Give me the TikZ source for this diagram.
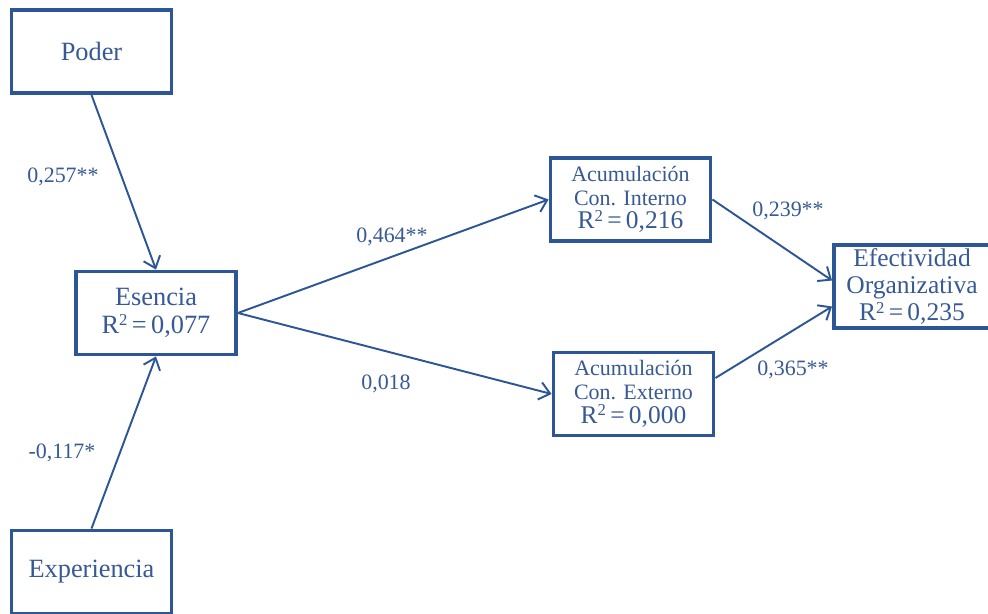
\documentclass[tikz,border=0pt]{standalone}
\usepackage{fontspec}
\setmainfont{Liberation Serif}
\usepackage{xcolor}
\usetikzlibrary{positioning,calc,arrows.meta}
\definecolor{boxblue}{RGB}{44,86,150}
\definecolor{txtblue}{RGB}{55,89,148}
\newcommand{\rsq}{R\raisebox{0.3em}{\fontsize{9.5}{9.5}\selectfont 2}\,=\,}
\begin{document}
\begin{tikzpicture}[x=0.02cm,y=-0.02cm,
  varbox/.style={draw=boxblue,line width=2.2pt,fill=white,text=txtblue,align=center,
    inner sep=0pt,minimum width=3.2cm,minimum height=1.66cm,font=\fontsize{15}{16}\selectfont},
  acumbox/.style={varbox,font=\fontsize{12.5}{13.5}\selectfont},
  link/.style={draw=boxblue,line width=1.1pt,-{Straight Barb[length=6pt,width=10pt]}},
  coef/.style={text=txtblue,font=\fontsize{12.5}{14}\selectfont}]
\useasboundingbox (0,0) rectangle (988,614);
\node[varbox] (poder) at (91.5,51.5) {Poder};
\node[varbox] (esencia) at (156,313) {Esencia\\ \rsq 0,077};
\node[acumbox] (interno) at (630.5,199.5) {Acumulación\\ Con. Interno\\ {\fontsize{14.5}{13.5}\selectfont \rsq 0,216}};
\node[acumbox] (externo) at (633.5,394) {Acumulación\\ Con. Externo\\ {\fontsize{14.5}{13.5}\selectfont \rsq 0,000}};
\node[varbox,minimum width=3.12cm,font=\fontsize{14.5}{15.5}\selectfont] (efect) at (912,286.5) {Efectividad\\ Organizativa\\ \rsq 0,235};
\node[varbox] (exper) at (91.5,572) {Experiencia};
\draw[link] (poder.south) -- (esencia.north);
\draw[link] (exper.north) -- (esencia.south);
\draw[link] (esencia.east) -- (interno.west);
\draw[link] (esencia.east) -- (externo.west);
\draw[link] (interno.east) -- ($(efect.west)+(0,-6)$);
\draw[link] ($(externo.east)+(0,-16)$) -- ($(efect.west)+(0,20)$);
\node[coef] (cpoder) at (63,177) {0,257**};
\node[coef] (cexper) at (62,453) {-0,117*};
\node[coef] (cinterno) at (392,237) {0,464**};
\node[coef] (cexterno) at (386,384) {0,018};
\node[coef] (cefint) at (788,211) {0,239**};
\node[coef] (cefext) at (793,370) {0,365**};
\end{tikzpicture}
\end{document}
